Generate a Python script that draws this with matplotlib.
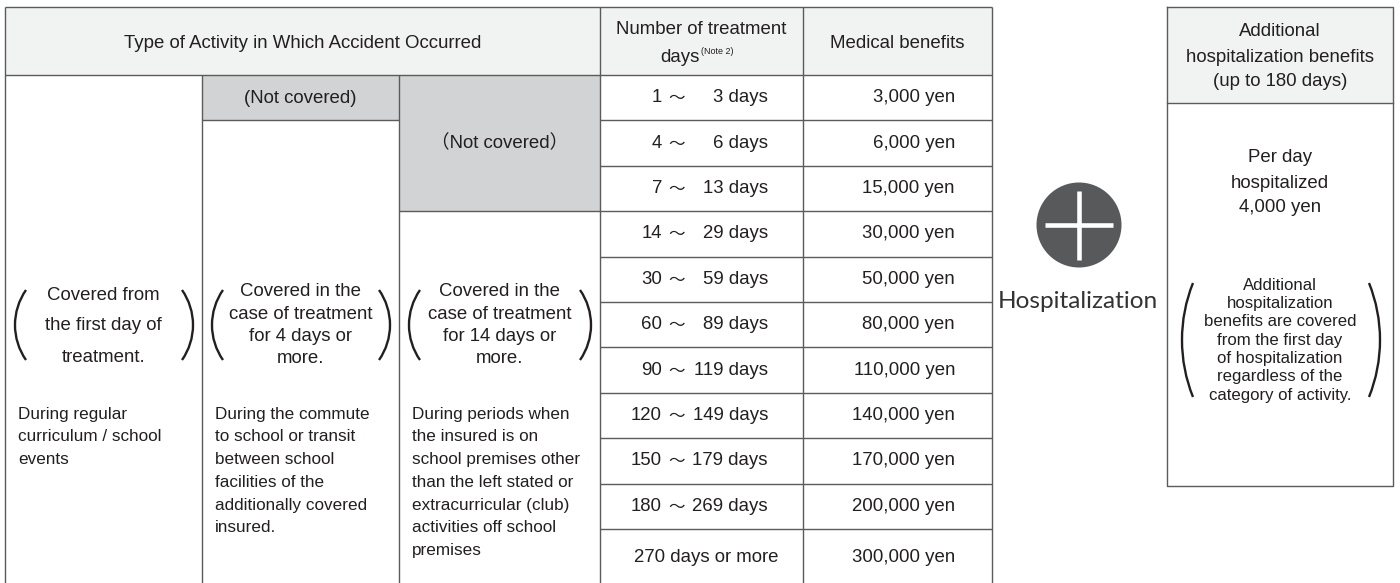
import matplotlib
matplotlib.use('Agg')
import matplotlib.pyplot as plt
from matplotlib.patches import Rectangle, Circle, Arc
import numpy as np

plt.rcParams['font.family'] = ['Liberation Sans', 'Noto Sans CJK JP', 'DejaVu Sans']

# table data
day_lo = [1, 4, 7, 14, 30, 60, 90, 120, 150, 180]
day_hi = [3, 6, 13, 29, 59, 89, 119, 149, 179, 269]
last_days = '270 days or more'
benefits = [3000, 6000, 15000, 30000, 50000, 80000, 110000, 140000, 170000, 200000, 300000]

header_main = 'Type of Activity in Which Accident Occurred'
header_days = ['Number of treatment', 'days']
header_note = '(Note 2)'
header_benefit = 'Medical benefits'

bracket_texts = [
    ['Covered from', 'the first day of', 'treatment.'],
    ['Covered in the', 'case of treatment', 'for 4 days or', 'more.'],
    ['Covered in the', 'case of treatment', 'for 14 days or', 'more.'],
]
desc_texts = [
    ['During regular', 'curriculum / school', 'events'],
    ['During the commute', 'to school or transit', 'between school',
     'facilities of the', 'additionally covered', 'insured.'],
    ['During periods when', 'the insured is on', 'school premises other',
     'than the left stated or', 'extracurricular (club)', 'activities off school',
     'premises'],
]

hosp_header = ['Additional', 'hospitalization benefits', '(up to 180 days)']
hosp_rate = ['Per day', 'hospitalized', '4,000 yen']
hosp_note = ['Additional', 'hospitalization', 'benefits are covered', 'from the first day',
             'of hospitalization', 'regardless of the', 'category of activity.']

# colours
txt = '#231f20'
line_c = '#5b5b5b'
head_fill = '#f1f2f2'
grey_fill = '#d1d3d4'

fig = plt.figure(figsize=(14, 5.83), dpi=100)
ax = fig.add_axes([0, 0, 1, 1])
ax.set_xlim(0, 1400)
ax.set_ylim(583, 0)
ax.axis('off')

# layout (pixels)
L, R = 5, 992
top, hbot = 7, 75
c1, c2, c3, c4 = 202, 399, 600, 803
row_h = 45.4
n_rows = len(benefits)
row_y = [hbot + i * row_h for i in range(n_rows)]
bottom = 583
fs = 13.4       # headers / cells
fs_desc = 12.3  # long descriptions
lw = 1.0

# fills
ax.add_patch(Rectangle((L, top), R - L, hbot - top, fc=head_fill, ec='none'))
ax.add_patch(Rectangle((c1, hbot), c2 - c1, row_h, fc=grey_fill, ec='none'))
ax.add_patch(Rectangle((c2, hbot), c3 - c2, row_y[3] - hbot, fc=grey_fill, ec='none'))

# grid lines
def hline(y, x0, x1):
    ax.plot([x0, x1], [y, y], color=line_c, lw=lw, solid_capstyle='butt')

def vline(x, y0, y1):
    ax.plot([x, x], [y0, y1], color=line_c, lw=lw, solid_capstyle='butt')

hline(top, L, R)
hline(hbot, L, R)
vline(L, top, bottom)
vline(R, top, bottom)
vline(c3, top, bottom)
vline(c4, top, bottom)
vline(c1, hbot, bottom)
vline(c2, hbot, bottom)
hline(row_y[1], c1, c2)
hline(row_y[3], c2, c3)
for y in row_y[1:]:
    hline(y, c3, R)

# headers
ax.text((L + c3) / 2, 43, header_main, ha='center', va='center', fontsize=fs, color=txt)
ax.text((c3 + c4) / 2, 30, header_days[0], ha='center', va='center', fontsize=fs, color=txt)
ax.text(700, 57, header_days[1], ha='right', va='center', fontsize=fs, color=txt)
ax.text(701, 52, header_note, ha='left', va='center', fontsize=6.5, color=txt)
ax.text((c4 + R) / 2, 43, header_benefit, ha='center', va='center', fontsize=fs, color=txt)

# not covered cells
ax.text((c1 + c2) / 2, (hbot + row_y[1]) / 2 + 1, '(Not covered)', ha='center', va='center',
        fontsize=fs, color=txt)
ax.text((c2 + c3) / 2, (hbot + row_y[3]) / 2, '（Not covered）', ha='center', va='center',
        fontsize=fs, color=txt)

# days and benefits
for i in range(n_rows):
    y0 = row_y[i]
    y1 = row_y[i + 1] if i + 1 < n_rows else 585
    yc = (y0 + y1) / 2
    if i < len(day_lo):
        ax.text(662, yc, str(day_lo[i]), ha='right', va='center', fontsize=fs, color=txt)
        ax.text(677, yc + 1, '〜', ha='center', va='center', fontsize=fs - 1.5, color=txt,
                family=['Noto Sans CJK JP'])
        ax.text(768, yc, f'{day_hi[i]} days', ha='right', va='center', fontsize=fs, color=txt)
    else:
        ax.text(706, yc, last_days, ha='center', va='center', fontsize=fs, color=txt)
    ax.text(955, yc, f'{benefits[i]:,} yen', ha='right', va='center', fontsize=fs, color=txt)


def paren(x_mid, x_end, y_top, y_bot, side, lw_p=1.7):
    h = (y_bot - y_top) / 2
    d = abs(x_end - x_mid)
    rad = (h * h + d * d) / (2 * d)
    th = np.degrees(np.arcsin(h / rad))
    yc = (y_top + y_bot) / 2
    if side == 'left':
        ax.add_patch(Arc((x_mid + rad, yc), 2 * rad, 2 * rad, theta1=180 - th, theta2=180 + th,
                         color=txt, lw=lw_p))
    else:
        ax.add_patch(Arc((x_mid - rad, yc), 2 * rad, 2 * rad, theta1=-th, theta2=th,
                         color=txt, lw=lw_p))


# bracketed coverage text
col_bounds = [(L, c1), (c1, c2), (c2, c3)]
bracket_y0 = [295, 292, 292]
bracket_dy = [31, 22.3, 22.3]
for k, (x0, x1) in enumerate(col_bounds):
    cx = (x0 + x1) / 2
    for j, s in enumerate(bracket_texts[k]):
        ax.text(cx, bracket_y0[k] + j * bracket_dy[k], s, ha='center', va='center',
                fontsize=fs, color=txt)
    paren(x0 + 10, x0 + 21, 290, 360, 'left')
    paren(x1 - 9, x1 - 20, 290, 360, 'right')
    for j, s in enumerate(desc_texts[k]):
        ax.text(x0 + 13, 414 + j * 22.8, s, ha='left', va='center', fontsize=fs_desc, color=txt)

# plus sign
ax.add_patch(Circle((1079, 225), 42.5, fc='#58595b', ec='none'))
ax.plot([1079, 1079], [191, 260], color='white', lw=3.3, solid_capstyle='butt')
ax.plot([1045, 1113], [225, 225], color='white', lw=3.3, solid_capstyle='butt')
ax.text(1078, 302, 'Hospitalization', ha='center', va='center', fontsize=17.6,
        color='#333333', family=['Lato', 'DejaVu Sans'])

# hospitalization box
bl, br, bt, bhb, bb = 1167, 1393, 7, 103, 486
ax.add_patch(Rectangle((bl, bt), br - bl, bhb - bt, fc=head_fill, ec='none'))
ax.plot([bl, br, br, bl, bl], [bt, bt, bb, bb, bt], color=line_c, lw=lw)
ax.plot([bl, br], [bhb, bhb], color=line_c, lw=lw)
bx = (bl + br) / 2
for j, s in enumerate(hosp_header):
    ax.text(bx, 32 + j * 25, s, ha='center', va='center', fontsize=fs, color=txt)
for j, s in enumerate(hosp_rate):
    ax.text(bx, 158 + j * 25, s, ha='center', va='center', fontsize=fs, color=txt)
for j, s in enumerate(hosp_note):
    ax.text(bx, 285 + j * 18.4, s, ha='center', va='center', fontsize=12.1, color=txt)
paren(1182, 1193, 283, 397, 'left')
paren(1380, 1369, 283, 397, 'right')

fig.savefig('out.png', dpi=100)
